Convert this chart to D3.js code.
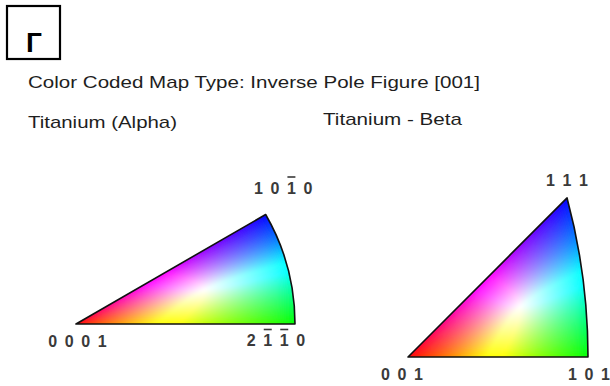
<!DOCTYPE html>
<html>
<head>
<meta charset="utf-8">
<script src="https://cdn.jsdelivr.net/npm/d3@7"></script>
<style>
  html, body { margin: 0; padding: 0; background: #fff; }
  svg { display: block; }
</style>
</head>
<body>
<div id="chart"></div>
<script>
// ---- content ----
const panelLetter = "Г";
const mapTitle = "Color Coded Map Type: Inverse Pole Figure [001]";
const phaseNames = ["Titanium (Alpha)", "Titanium - Beta"];

// Hexagonal (alpha) key: poles given by polar angle from c-axis and azimuth (degrees)
const alphaPoleLabels = ["0001", "2-1-10", "10-10"];
const alphaPolePolar = [0, 90, 90];
const alphaPoleAzimuth = [0, 0, 30];

// Cubic (beta) key: poles given as crystal directions
const betaPoleLabels = ["001", "101", "111"];
const betaPoleDirs = [[0, 0, 1], [1, 0, 1], [1, 1, 1]];

// ---- layout ----
const W = 610, H = 386;
const svg = d3.select("#chart").append("svg")
  .attr("width", W).attr("height", H)
  .style("font-family", "'Liberation Sans', Arial, sans-serif");
svg.append("rect").attr("width", W).attr("height", H).attr("fill", "#fff");

const defs = svg.append("defs");
defs.append("filter").attr("id", "soften")
  .attr("x", 0).attr("y", 0).attr("width", 1).attr("height", 1)
  .append("feGaussianBlur").attr("stdDeviation", 1.4);

// stereographic scales (unit = projected radius of the equator)
const xA = d3.scaleLinear().domain([0, 1]).range([76, 295]);
const yA = d3.scaleLinear().domain([0, 1]).range([324, 105]);
const tb = Math.tan(Math.PI / 8);
const xB = d3.scaleLinear().domain([0, tb]).range([408, 588]);
const yB = d3.scaleLinear().domain([0, tb]).range([357, 177]);

const rad = d => d * Math.PI / 180;
function project(v) {
  const n = Math.hypot(v[0], v[1], v[2]);
  const x = v[0] / n, y = v[1] / n, z = v[2] / n;
  return [x / (1 + z), y / (1 + z)];
}
function unproject(X, Y) {
  const s = 1 + X * X + Y * Y;
  return [2 * X / s, 2 * Y / s, (1 - X * X - Y * Y) / s];
}

// colour weights: vertex contributions of the direction inside the fundamental zone
function hexColor(v) {
  const [x, y, z] = v;
  return [z, x - Math.sqrt(3) * y, 2 * y];
}
function cubicColor(v) {
  const [x, y, z] = v;
  return [z - x, Math.SQRT2 * (x - y), Math.sqrt(3) * y];
}
// smooth normalisation: p-norm instead of a hard max, rescaled so equal weights give white
const P = 4, K = Math.pow(3, 1 / P);
function toRGB(w) {
  const c = w.map(d => Math.max(0, d));
  const m = Math.pow(c[0] ** P + c[1] ** P + c[2] ** P, 1 / P) || 1;
  return c.map(d => Math.round(255 * Math.pow(Math.min(1, K * d / m), 0.8)));
}

// ---- colour fills, rasterised pixel by pixel (slightly past the edges) ----
const canvas = document.createElement("canvas");
canvas.width = W; canvas.height = H;
const ctx = canvas.getContext("2d");
const img = ctx.createImageData(W, H);
function paint(xs, ys, inside, colorFn) {
  const [x0, x1] = xs.range(), [y0, y1] = ys.range();
  for (let py = Math.floor(Math.min(y0, y1)) - 6; py <= Math.ceil(Math.max(y0, y1)) + 6; py++) {
    for (let px = Math.floor(x0) - 6; px <= Math.ceil(x1) + 6; px++) {
      const X = xs.invert(px + 0.5), Y = ys.invert(py + 0.5);
      if (!inside(X, Y)) continue;
      const rgb = toRGB(colorFn(unproject(X, Y)));
      const i = (py * W + px) * 4;
      img.data[i] = rgb[0]; img.data[i + 1] = rgb[1]; img.data[i + 2] = rgb[2]; img.data[i + 3] = 255;
    }
  }
}
const maxAz = rad(d3.max(alphaPoleAzimuth));
const eA = 5 / (xA(1) - xA(0));
paint(xA, yA,
  (X, Y) => Y >= -eA && Math.hypot(X, Y) <= 1 + eA &&
            (Math.sin(maxAz) * X - Math.cos(maxAz) * Y) >= -eA,
  hexColor);
const eB = 5 / (xB(1) - xB(0));
paint(xB, yB,
  (X, Y) => Y >= -eB && (X - Y) / Math.SQRT2 >= -eB && Math.hypot(X + 1, Y) <= Math.SQRT2 + eB,
  cubicColor);
ctx.putImageData(img, 0, 0);

// ---- outlines ----
const alphaPts = alphaPolePolar.map((p, i) => {
  const t = rad(p), f = rad(alphaPoleAzimuth[i]);
  return project([Math.sin(t) * Math.cos(f), Math.sin(t) * Math.sin(f), Math.cos(t)]);
});
const betaPts = betaPoleDirs.map(project);

const pa = d3.path();
pa.moveTo(xA(alphaPts[0][0]), yA(alphaPts[0][1]));
pa.lineTo(xA(alphaPts[1][0]), yA(alphaPts[1][1]));
pa.arc(xA(0), yA(0), xA(1) - xA(0), 0, -maxAz, true);
pa.closePath();

const pb = d3.path();
pb.moveTo(xB(betaPts[0][0]), yB(betaPts[0][1]));
pb.lineTo(xB(betaPts[1][0]), yB(betaPts[1][1]));
const endAng = Math.atan2(betaPts[2][1], betaPts[2][0] + 1);
pb.arc(xB(-1), yB(0), xB(Math.SQRT2) - xB(0), 0, -endAng, true);
pb.closePath();

const outlines = [pa.toString(), pb.toString()];
defs.append("clipPath").attr("id", "zones")
  .selectAll("path").data(outlines).join("path").attr("d", d => d);

svg.append("g").attr("clip-path", "url(#zones)")
  .append("image").attr("x", 0).attr("y", 0).attr("width", W).attr("height", H)
  .attr("filter", "url(#soften)")
  .attr("href", canvas.toDataURL());

svg.selectAll("path.outline").data(outlines).join("path")
  .attr("class", "outline").attr("d", d => d)
  .attr("fill", "none").attr("stroke", "#111").attr("stroke-width", 1.6)
  .attr("stroke-linejoin", "round");

// ---- pole labels (a '-' puts a bar over the following digit) ----
function parseIndex(s) {
  const out = [];
  for (let i = 0; i < s.length; i++) {
    if (s[i] === "-") { out.push({ d: s[i + 1], bar: true }); i++; }
    else out.push({ d: s[i], bar: false });
  }
  return out;
}
const pitch = 16.5;
function drawLabel(label, cx, baseline) {
  const digits = parseIndex(label);
  const g = svg.append("g").attr("class", "pole-label");
  const start = cx - pitch * (digits.length - 1) / 2;
  digits.forEach((o, i) => {
    const x = start + i * pitch;
    g.append("text").attr("x", x).attr("y", baseline)
      .attr("text-anchor", "middle").attr("font-size", 16).attr("font-weight", "bold")
      .attr("fill", "#3a3a3a").text(o.d);
    if (o.bar) {
      g.append("line").attr("x1", x - 4).attr("x2", x + 4)
        .attr("y1", baseline - 16.5).attr("y2", baseline - 16.5)
        .attr("stroke", "#3a3a3a").attr("stroke-width", 1.6);
    }
  });
}
const alphaOffsets = [[1.5, 23], [-19, 22], [17.5, -21]];
alphaPoleLabels.forEach((l, i) =>
  drawLabel(l, xA(alphaPts[i][0]) + alphaOffsets[i][0], yA(alphaPts[i][1]) + alphaOffsets[i][1]));
const betaOffsets = [[-6, 23], [1, 23], [0, -12]];
betaPoleLabels.forEach((l, i) =>
  drawLabel(l, xB(betaPts[i][0]) + betaOffsets[i][0], yB(betaPts[i][1]) + betaOffsets[i][1]));

// ---- titles ----
svg.append("text").attr("x", 28).attr("y", 88).attr("font-size", 17)
  .attr("fill", "#1e1e1e").attr("textLength", 452).attr("lengthAdjust", "spacingAndGlyphs")
  .text(mapTitle);
svg.append("text").attr("x", 28).attr("y", 128).attr("font-size", 17)
  .attr("fill", "#1e1e1e").attr("textLength", 149).attr("lengthAdjust", "spacingAndGlyphs")
  .text(phaseNames[0]);
svg.append("text").attr("x", 323).attr("y", 125).attr("font-size", 17)
  .attr("fill", "#1e1e1e").attr("textLength", 139).attr("lengthAdjust", "spacingAndGlyphs")
  .text(phaseNames[1]);

// ---- panel letter box ----
svg.append("rect").attr("x", 7).attr("y", 6).attr("width", 53).attr("height", 53)
  .attr("fill", "none").attr("stroke", "#000").attr("stroke-width", 2.2);
svg.append("text").attr("x", 34).attr("y", 52).attr("text-anchor", "middle")
  .attr("font-size", 28).attr("font-weight", "bold").attr("fill", "#000")
  .text(panelLetter);
</script>
</body>
</html>
